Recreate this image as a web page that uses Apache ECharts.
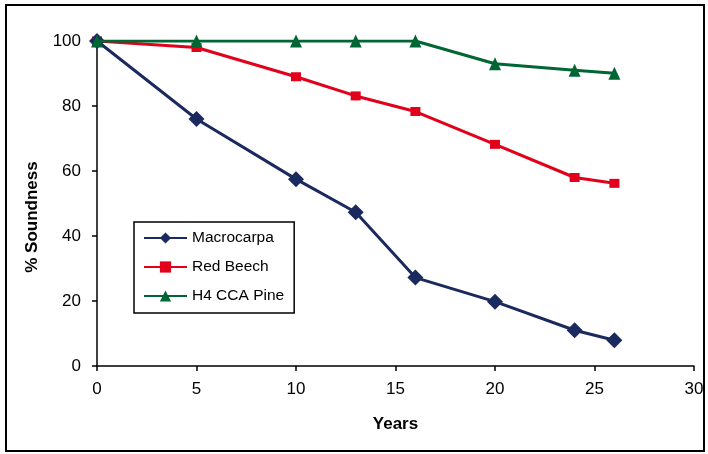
<!DOCTYPE html>
<html><head><meta charset="utf-8">
<script src="https://cdn.jsdelivr.net/npm/echarts@6/dist/echarts.min.js"></script>
<style>html,body{margin:0;padding:0;background:#fff}#c{width:708px;height:454px}</style>
</head><body><div id="c"></div>
<script>
const years = [0, 5, 10, 13, 16, 20, 24, 26];
const macrocarpa = [100, 76, 57.5, 47.3, 27.2, 19.8, 11, 7.9];
const redBeech = [100, 98, 89, 83.1, 78.3, 68.2, 58, 56.2];
const h4Pine = [100, 100, 100, 100, 100, 93, 91, 90.1];
const seriesNames = ['Macrocarpa', 'Red Beech', 'H4 CCA Pine'];
const xTitle = 'Years';
const yTitle = '% Soundness';

const pair = arr => years.map((y, i) => [y, arr[i]]);
const font = 'Liberation Sans, Arial, sans-serif';
const chart = echarts.init(document.getElementById('c'));
chart.setOption({
  animation: false,
  backgroundColor: '#fff',
  graphic: [
    {type: 'rect', shape: {x: 6, y: 5, width: 698, height: 446}, style: {fill: 'none', stroke: '#000', lineWidth: 2}, z: 0},
    {type: 'text', x: 32, y: 217, rotation: Math.PI / 2, z: 5,
     style: {text: yTitle, fontFamily: font, fontSize: 17, fontWeight: 'bold', fill: '#000', align: 'center', verticalAlign: 'middle'}}
  ],
  grid: {left: 97, right: 14, top: 41, bottom: 88},
  xAxis: {
    type: 'value', min: 0, max: 30, interval: 5,
    name: xTitle, nameLocation: 'middle', nameGap: 50,
    nameTextStyle: {fontFamily: font, fontSize: 17, fontWeight: 'bold', color: '#000'},
    axisLine: {lineStyle: {color: '#000', width: 1.5}},
    axisTick: {show: true, length: 5, lineStyle: {color: '#000', width: 1.5}},
    axisLabel: {fontFamily: font, fontSize: 17, color: '#000', margin: 15},
    splitLine: {show: false}
  },
  yAxis: {
    type: 'value', min: 0, max: 100, interval: 20,
    axisLine: {show: true, lineStyle: {color: '#000', width: 1.5}},
    axisTick: {show: true, length: 5, lineStyle: {color: '#000', width: 1.5}},
    axisLabel: {fontFamily: font, fontSize: 17, color: '#000', margin: 16},
    splitLine: {show: false}
  },
  legend: {
    orient: 'vertical', left: 134, top: 222,
    data: seriesNames,
    backgroundColor: '#fff', borderColor: '#000', borderWidth: 1.5,
    padding: [8, 10, 9, 9],
    itemWidth: 43, itemHeight: 14, itemGap: 13,
    textStyle: {fontFamily: font, fontSize: 15.5, color: '#000', lineHeight: 14}
  },
  series: [
    {name: seriesNames[0], type: 'line', data: pair(macrocarpa), symbol: 'diamond', symbolSize: 16,
     lineStyle: {color: '#1B2A5E', width: 3}, itemStyle: {color: '#1B2A5E'}, z: 3},
    {name: seriesNames[1], type: 'line', data: pair(redBeech), symbol: 'rect', symbolSize: [10, 9],
     lineStyle: {color: '#E2001A', width: 3}, itemStyle: {color: '#E2001A'}, z: 2},
    {name: seriesNames[2], type: 'line', data: pair(h4Pine), symbol: 'triangle', symbolSize: [12, 13],
     lineStyle: {color: '#006633', width: 3}, itemStyle: {color: '#006633'}, z: 4}
  ]
});
</script></body></html>
